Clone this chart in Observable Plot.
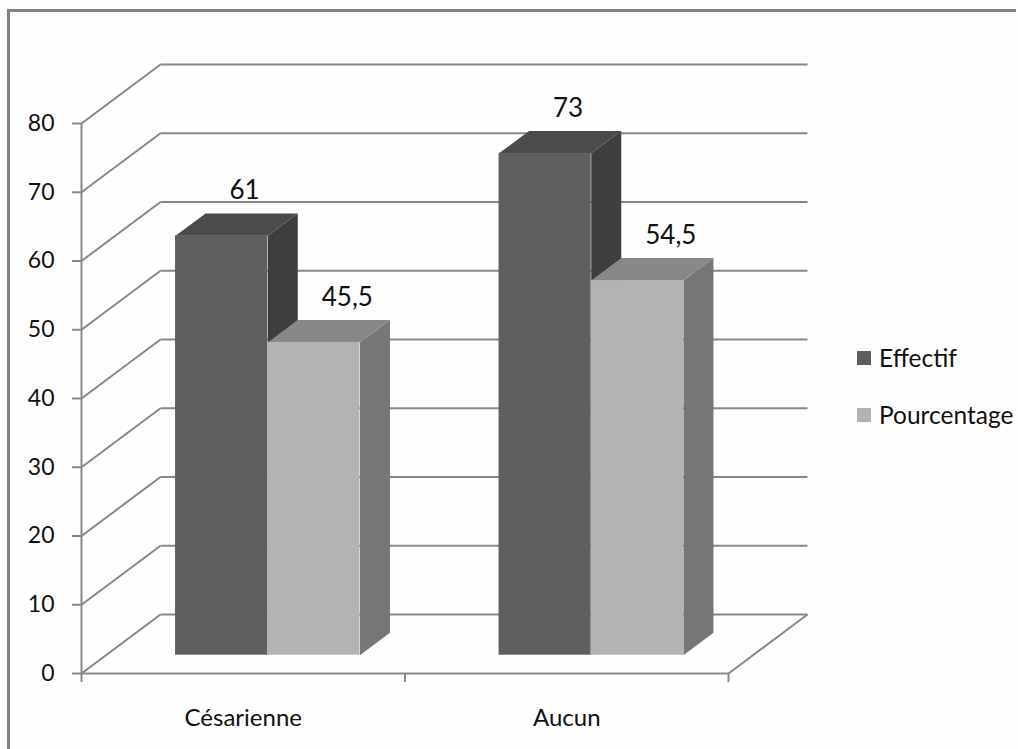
<!DOCTYPE html>
<html>
<head>
<meta charset="utf-8">
<script src="https://cdn.jsdelivr.net/npm/d3@7"></script>
<script src="https://cdn.jsdelivr.net/npm/@observablehq/plot@0.6"></script>
<style>
  html, body { margin: 0; padding: 0; background: #fefefe; }
  #wrap { position: relative; width: 1018px; height: 749px; overflow: hidden; font-family: Lato, sans-serif; }
  #frame { position: absolute; left: 7px; top: 9px; width: 1006px; height: 760px;
           border-top: 3px solid #808080; border-left: 3px solid #808080; pointer-events: none; }
  #legend { position: absolute; left: 857px; top: 344px; font-size: 24.5px; color: #111; }
  .item { display: flex; align-items: center; height: 28px; line-height: 28px; margin-bottom: 29px; white-space: nowrap; }
  .sw { width: 14px; height: 14px; margin-right: 8px; flex: none; }
</style>
</head>
<body>
<div id="wrap"><div id="chart"></div><div id="legend"></div><div id="frame"></div></div>
<script>
// ---- data ----
const categories = ["Césarienne", "Aucun"];
const series = ["Effectif", "Pourcentage"];
const effectif = [61, 73];
const pourcentage = [45.5, 54.5];
const yTicks = [0, 10, 20, 30, 40, 50, 60, 70, 80];

// ---- styling / layout ----
const colors = {
  Effectif:    {front: "#5f5f5f", top: "#4b4b4b", side: "#3e3e3e"},
  Pourcentage: {front: "#b3b3b3", top: "#888888", side: "#767676"}
};
const gridColor = "#888888";
const W = 1018, H = 749;
const mL = 81, mR = 290, mT = 123, mB = 76;
const pxX = (W - mL - mR) / 2, pxY = (H - mT - mB) / 80;
const WX = 79 / pxX, WY = 59 / pxY;   // depth of the 3D box, in data units
const F0 = 0.31, F1 = 0.69;           // bar depth range (fraction of box depth)
const GAP = 0.215, BW = 0.285;        // bar layout within a category (x units)
const P = (x, y, f) => ({x: x + f * WX, y: y + f * WY});

const valuesBySeries = {Effectif: effectif, Pourcentage: pourcentage};
const bars = [];
categories.forEach((c, i) => series.forEach((s, j) => {
  const v = valuesBySeries[s][i];
  const x1 = i + GAP + j * BW, x2 = x1 + BW;
  bars.push({category: c, series: s, value: v, x1, x2,
    fx1: P(x1, 0, F0).x, fx2: P(x2, 0, F0).x, fy1: F0 * WY, fy2: v + F0 * WY});
}));
const faces = (kind, s) => bars.filter(b => b.series === s).flatMap((b, k) => {
  const id = b.category + b.series + kind;
  const pts = kind === "side"
    ? [P(b.x2, 0, F0), P(b.x2, b.value, F0), P(b.x2, b.value, F1), P(b.x2, 0, F1)]
    : [P(b.x1, b.value, F0), P(b.x2, b.value, F0), P(b.x2, b.value, F1), P(b.x1, b.value, F1)];
  return pts.map(p => ({...p, id}));
});

const backGrid = yTicks.map(t => ({a: P(0, t, 0), b: P(0, t, 1), c: P(2, t, 1)}));

const marks = [
  // left wall diagonals
  Plot.link(backGrid, {x1: d => d.a.x, y1: d => d.a.y, x2: d => d.b.x, y2: d => d.b.y, stroke: gridColor, strokeWidth: 2}),
  // back wall gridlines
  Plot.link(backGrid, {x1: d => d.b.x, y1: d => d.b.y, x2: d => d.c.x, y2: d => d.c.y, stroke: gridColor, strokeWidth: 2}),
  // floor right edge
  Plot.link([0], {x1: () => 2, y1: () => 0, x2: () => P(2, 0, 1).x, y2: () => P(2, 0, 1).y, stroke: gridColor, strokeWidth: 2}),
];
for (const kind of ["side", "top"]) for (const s of series)
  marks.push(Plot.line(faces(kind, s), {x: "x", y: "y", z: "id", fill: colors[s][kind], stroke: "none"}));
for (const s of series)
  marks.push(Plot.rect(bars.filter(b => b.series === s), {x1: "fx1", x2: "fx2", y1: "fy1", y2: "fy2", fill: colors[s].front}));

marks.push(
  // axes lines
  Plot.ruleY([0], {x1: 0, x2: 2, stroke: gridColor, strokeWidth: 2}),
  Plot.ruleX([0], {y1: 0, y2: 80, stroke: gridColor, strokeWidth: 2}),
  Plot.axisY(yTicks, {tickSize: 9, tickPadding: 18, stroke: gridColor, strokeWidth: 2, fontSize: 23, fill: "#111", label: null}),
  Plot.axisX([0, 1, 2], {tickSize: 9, tickFormat: () => "", stroke: gridColor, strokeWidth: 2, label: null}),
  Plot.axisX(categories.map((c, i) => i + 0.5), {tickSize: 0, tickPadding: 35, tickFormat: v => categories[Math.floor(v)], fontSize: 24, fill: "#111", label: null}),
  // data labels
  Plot.text(bars, {x: "fx1", y: "fy2", text: d => String(d.value).replace(".", ","), textAnchor: "start", dx: 54, dy: -45, fontSize: 26, fill: "#111"})
);

const chart = Plot.plot({
  width: W, height: H,
  marginLeft: mL, marginRight: mR, marginTop: mT, marginBottom: mB,
  x: {domain: [0, 2]},
  y: {domain: [0, 80]},
  style: {fontFamily: "Lato, sans-serif", fontSize: "23px", color: "#111", background: "transparent", overflow: "visible"},
  marks
});
document.getElementById("chart").append(chart);

const legend = document.getElementById("legend");
for (const s of series) {
  const item = document.createElement("div");
  item.className = "item";
  const sw = document.createElement("span");
  sw.className = "sw";
  sw.style.background = colors[s].front;
  const label = document.createElement("span");
  label.textContent = s;
  item.append(sw, label);
  legend.append(item);
}
</script>
</body>
</html>
